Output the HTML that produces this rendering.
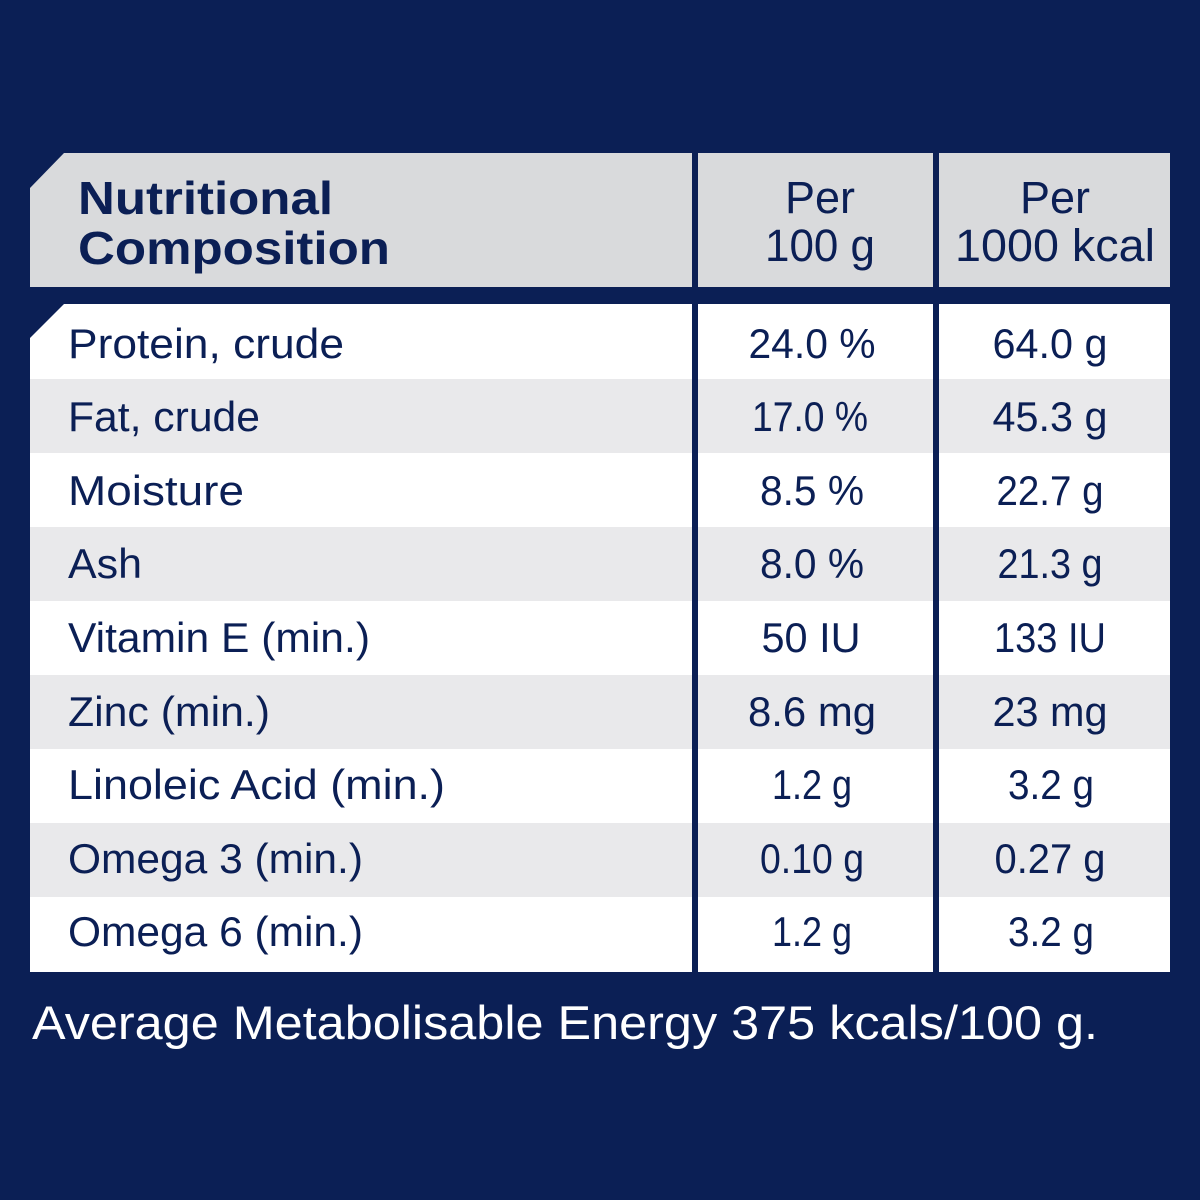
<!DOCTYPE html>
<html><head><meta charset="utf-8"><style>
html,body{margin:0;padding:0;background:#0b1f55;}
svg{display:block}
text{font-family:"Liberation Sans",sans-serif;fill:#0b1f55}
</style></head><body>
<svg width="1200" height="1200" viewBox="0 0 1200 1200">
<rect width="1200" height="1200" fill="#0b1f55"/>
<polygon points="64,153 692,153 692,287 30,287 30,188" fill="#d9dadc"/>
<rect x="698" y="153" width="235" height="134" fill="#d9dadc"/>
<rect x="939" y="153" width="231" height="134" fill="#d9dadc"/>
<text x="78" y="214" font-size="46" font-weight="bold" textLength="255" lengthAdjust="spacingAndGlyphs">Nutritional</text>
<text x="78" y="264" font-size="46" font-weight="bold" textLength="312" lengthAdjust="spacingAndGlyphs">Composition</text>
<text x="820" y="213" font-size="45" text-anchor="middle" textLength="70" lengthAdjust="spacingAndGlyphs">Per</text>
<text x="820" y="261" font-size="45" text-anchor="middle" textLength="110" lengthAdjust="spacingAndGlyphs">100 g</text>
<text x="1055" y="213" font-size="45" text-anchor="middle" textLength="70" lengthAdjust="spacingAndGlyphs">Per</text>
<text x="1055" y="261" font-size="45" text-anchor="middle" textLength="200" lengthAdjust="spacingAndGlyphs">1000 kcal</text>
<g>
<polygon points="64,304 692,304 692,379 30,379 30,338" fill="#ffffff"/>
<rect x="698" y="304" width="235" height="75" fill="#fff"/><rect x="939" y="304" width="231" height="75" fill="#fff"/>
<rect x="30" y="379" width="662" height="74" fill="#e9e9eb"/><rect x="698" y="379" width="235" height="74" fill="#e9e9eb"/><rect x="939" y="379" width="231" height="74" fill="#e9e9eb"/>
<rect x="30" y="453" width="662" height="74" fill="#fff"/><rect x="698" y="453" width="235" height="74" fill="#fff"/><rect x="939" y="453" width="231" height="74" fill="#fff"/>
<rect x="30" y="527" width="662" height="74" fill="#e9e9eb"/><rect x="698" y="527" width="235" height="74" fill="#e9e9eb"/><rect x="939" y="527" width="231" height="74" fill="#e9e9eb"/>
<rect x="30" y="601" width="662" height="74" fill="#fff"/><rect x="698" y="601" width="235" height="74" fill="#fff"/><rect x="939" y="601" width="231" height="74" fill="#fff"/>
<rect x="30" y="675" width="662" height="74" fill="#e9e9eb"/><rect x="698" y="675" width="235" height="74" fill="#e9e9eb"/><rect x="939" y="675" width="231" height="74" fill="#e9e9eb"/>
<rect x="30" y="749" width="662" height="74" fill="#fff"/><rect x="698" y="749" width="235" height="74" fill="#fff"/><rect x="939" y="749" width="231" height="74" fill="#fff"/>
<rect x="30" y="823" width="662" height="74" fill="#e9e9eb"/><rect x="698" y="823" width="235" height="74" fill="#e9e9eb"/><rect x="939" y="823" width="231" height="74" fill="#e9e9eb"/>
<rect x="30" y="897" width="662" height="75" fill="#fff"/><rect x="698" y="897" width="235" height="75" fill="#fff"/><rect x="939" y="897" width="231" height="75" fill="#fff"/>
</g>
<g font-size="42">
<text x="68" y="358" textLength="276" lengthAdjust="spacingAndGlyphs">Protein, crude</text>
<text x="68" y="431" textLength="192" lengthAdjust="spacingAndGlyphs">Fat, crude</text>
<text x="68" y="505" textLength="176" lengthAdjust="spacingAndGlyphs">Moisture</text>
<text x="68" y="578" textLength="74" lengthAdjust="spacingAndGlyphs">Ash</text>
<text x="68" y="652" textLength="302" lengthAdjust="spacingAndGlyphs">Vitamin E (min.)</text>
<text x="68" y="726" textLength="202" lengthAdjust="spacingAndGlyphs">Zinc (min.)</text>
<text x="68" y="799" textLength="377" lengthAdjust="spacingAndGlyphs">Linoleic Acid (min.)</text>
<text x="68" y="873" textLength="295" lengthAdjust="spacingAndGlyphs">Omega 3 (min.)</text>
<text x="68" y="946" textLength="295" lengthAdjust="spacingAndGlyphs">Omega 6 (min.)</text>
</g>
<g font-size="42" text-anchor="middle">
<text x="812" y="358" textLength="127" lengthAdjust="spacingAndGlyphs">24.0 %</text><text x="1050" y="358" textLength="115" lengthAdjust="spacingAndGlyphs">64.0 g</text>
<text x="810" y="431" textLength="116" lengthAdjust="spacingAndGlyphs">17.0 %</text><text x="1050" y="431" textLength="115" lengthAdjust="spacingAndGlyphs">45.3 g</text>
<text x="812" y="505" textLength="104" lengthAdjust="spacingAndGlyphs">8.5 %</text><text x="1050" y="505" textLength="107" lengthAdjust="spacingAndGlyphs">22.7 g</text>
<text x="812" y="578" textLength="104" lengthAdjust="spacingAndGlyphs">8.0 %</text><text x="1050" y="578" textLength="105" lengthAdjust="spacingAndGlyphs">21.3 g</text>
<text x="811" y="652" textLength="99" lengthAdjust="spacingAndGlyphs">50 IU</text><text x="1050" y="652" textLength="112" lengthAdjust="spacingAndGlyphs">133 IU</text>
<text x="812" y="726" textLength="128" lengthAdjust="spacingAndGlyphs">8.6 mg</text><text x="1050" y="726" textLength="115" lengthAdjust="spacingAndGlyphs">23 mg</text>
<text x="812" y="799" textLength="80" lengthAdjust="spacingAndGlyphs">1.2 g</text><text x="1051" y="799" textLength="86" lengthAdjust="spacingAndGlyphs">3.2 g</text>
<text x="812" y="873" textLength="104" lengthAdjust="spacingAndGlyphs">0.10 g</text><text x="1050" y="873" textLength="111" lengthAdjust="spacingAndGlyphs">0.27 g</text>
<text x="812" y="946" textLength="80" lengthAdjust="spacingAndGlyphs">1.2 g</text><text x="1051" y="946" textLength="86" lengthAdjust="spacingAndGlyphs">3.2 g</text>
</g>
<text x="32" y="1039" font-size="47" style="fill:#ffffff" textLength="1066" lengthAdjust="spacingAndGlyphs">Average Metabolisable Energy 375 kcals/100 g.</text>
</svg>
</body></html>
